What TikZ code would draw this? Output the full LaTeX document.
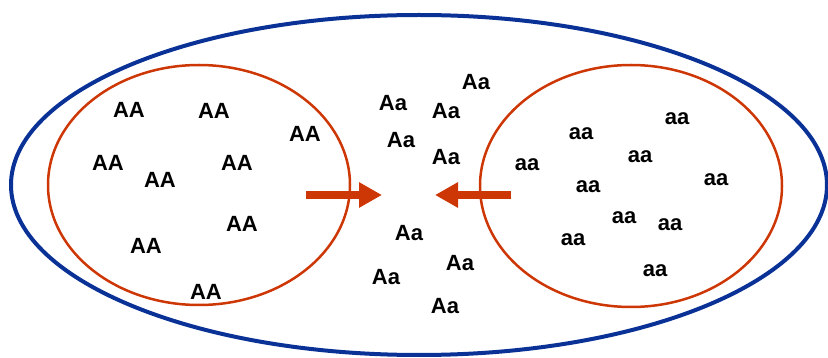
\documentclass[tikz,border=0pt]{standalone}
\usepackage{fontspec}
\setmainfont{Liberation Sans}
\usetikzlibrary{arrows.meta}
\definecolor{ovblue}{RGB}{10,50,150}
\definecolor{ovred}{RGB}{205,55,5}
\tikzset{
  lbl/.style={font=\fontsize{22}{22}\selectfont\bfseries, inner sep=0pt, anchor=center},
  bigarrow/.style={draw=ovred, line width=8pt, -{Triangle[length=23pt,width=24pt]}},
}
\begin{document}
\begin{tikzpicture}[x=1pt,y=-1pt]
\useasboundingbox (0,0) rectangle (828,358);
\draw[ovblue, line width=4pt] (419,185) ellipse [x radius=408, y radius=170];
\draw[ovred, line width=2.5pt] (199,185) ellipse [x radius=151, y radius=120];
\draw[ovred, line width=2.5pt] (631,186) ellipse [x radius=151, y radius=121];
% AA
\node[lbl] (A1) at (129,110) {AA};
\node[lbl] (A2) at (214,111) {AA};
\node[lbl] (A3) at (305,134) {AA};
\node[lbl] (A4) at (108,163) {AA};
\node[lbl] (A5) at (237,163) {AA};
\node[lbl] (A6) at (160,180) {AA};
\node[lbl] (A7) at (242,224) {AA};
\node[lbl] (A8) at (146,246) {AA};
\node[lbl] (A9) at (206,292) {AA};
% Aa
\node[lbl] (B1) at (393,103) {Aa};
\node[lbl] (B2) at (476,82) {Aa};
\node[lbl] (B3) at (446,111) {Aa};
\node[lbl] (B4) at (401,140) {Aa};
\node[lbl] (B5) at (446,157) {Aa};
\node[lbl] (B6) at (409,233) {Aa};
\node[lbl] (B7) at (460,263) {Aa};
\node[lbl] (B8) at (386,277) {Aa};
\node[lbl] (B9) at (445,306) {Aa};
% aa
\node[lbl] (C1) at (677,119) {aa};
\node[lbl] (C2) at (581,134) {aa};
\node[lbl] (C3) at (640,157) {aa};
\node[lbl] (C4) at (527,165) {aa};
\node[lbl] (C5) at (716,180) {aa};
\node[lbl] (C6) at (588,187) {aa};
\node[lbl] (C7) at (624,218) {aa};
\node[lbl] (C8) at (670,225) {aa};
\node[lbl] (C9) at (573,240) {aa};
\node[lbl] (C10) at (655,271) {aa};
% arrows
\coordinate (L0) at (306,195);
\coordinate (L1) at (382,195);
\coordinate (R0) at (511,195);
\coordinate (R1) at (435,195);
\draw[bigarrow] (L0) -- (L1);
\draw[bigarrow] (R0) -- (R1);
\end{tikzpicture}
\end{document}
